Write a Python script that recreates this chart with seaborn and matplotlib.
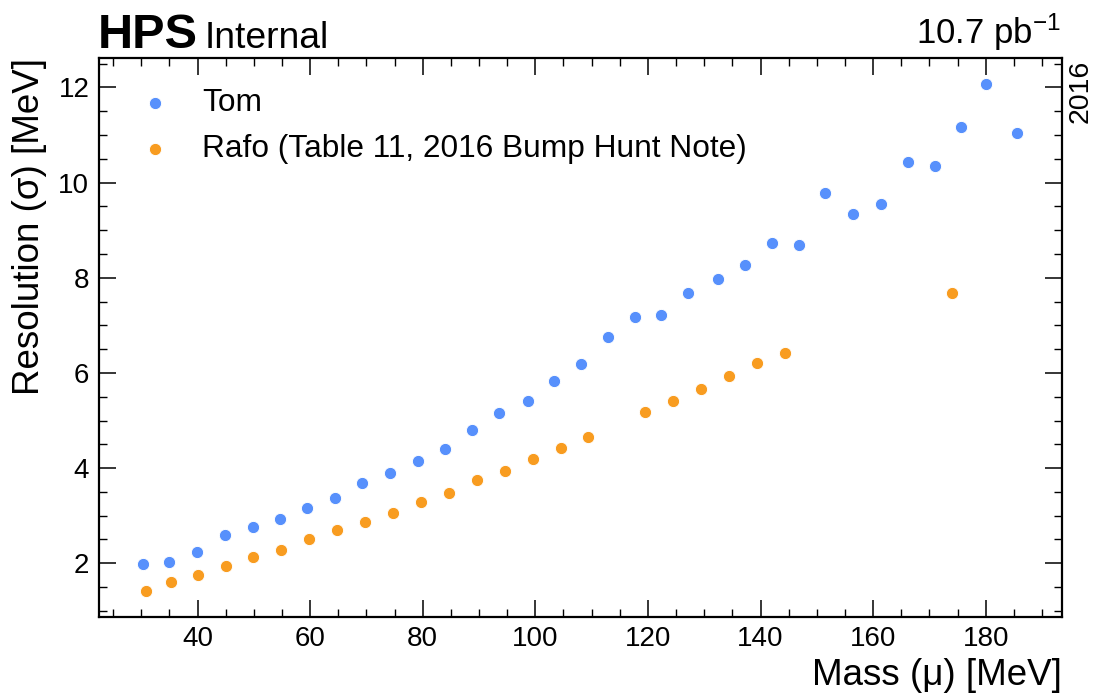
import matplotlib
matplotlib.use("Agg")
import matplotlib.pyplot as plt
import seaborn as sns
import pandas as pd
from matplotlib.ticker import MultipleLocator

# ---- data ----
tom_mass = [30.3, 35.0, 39.9, 44.8, 49.8, 54.7, 59.5, 64.5, 69.3, 74.2, 79.2, 84.0,
            88.8, 93.6, 98.7, 103.4, 108.2, 112.9, 117.7, 122.4, 127.2, 132.4, 137.2,
            142.0, 146.9, 151.4, 156.5, 161.4, 166.2, 171.0, 175.7, 180.0, 185.6]
tom_res = [1.98, 2.03, 2.24, 2.59, 2.76, 2.92, 3.16, 3.37, 3.68, 3.89, 4.15, 4.40,
           4.81, 5.15, 5.40, 5.83, 6.18, 6.76, 7.18, 7.21, 7.68, 7.97, 8.27,
           8.73, 8.68, 9.79, 9.34, 9.55, 10.44, 10.35, 11.18, 12.07, 11.05]
rafo_mass = [30.9, 35.3, 40.0, 45.0, 49.9, 54.9, 59.8, 64.8, 69.7, 74.7, 79.7, 84.6,
             89.6, 94.6, 99.6, 104.5, 109.4, 119.5, 124.5, 129.5, 134.4, 139.4, 144.3,
             174.1]
rafo_res = [1.42, 1.61, 1.76, 1.94, 2.13, 2.28, 2.50, 2.70, 2.87, 3.06, 3.28, 3.48,
            3.75, 3.94, 4.19, 4.42, 4.66, 5.17, 5.42, 5.66, 5.94, 6.21, 6.42,
            7.68]
labels = ["Tom", "Rafo (Table 11, 2016 Bump Hunt Note)"]
colors = ["#5790fc", "#f89c20"]

sns.set_theme(style="ticks")
plt.rcParams["font.family"] = ["Liberation Sans", "DejaVu Sans"]
plt.rcParams["mathtext.fontset"] = "custom"
plt.rcParams["mathtext.rm"] = "Liberation Sans"
plt.rcParams["mathtext.default"] = "regular"
plt.rcParams["text.color"] = "black"

fig = plt.figure(figsize=(10.95, 6.98), dpi=100)
ax = fig.add_axes([99 / 1095, 1 - 616.5 / 698, (1061.7 - 99) / 1095, (616.5 - 58) / 698])

df_tom = pd.DataFrame({"mass": tom_mass, "res": tom_res})
df_rafo = pd.DataFrame({"mass": rafo_mass, "res": rafo_res})
sns.scatterplot(data=df_tom, x="mass", y="res", color=colors[0], s=78,
                edgecolor="white", linewidth=0.7, label=labels[0], ax=ax, zorder=3)
sns.scatterplot(data=df_rafo, x="mass", y="res", color=colors[1], s=78,
                edgecolor="white", linewidth=0.7, label=labels[1], ax=ax, zorder=3)

ax.set_xlim(22.5, 193.5)
ax.set_ylim(0.88, 12.62)
ax.xaxis.set_major_locator(MultipleLocator(20))
ax.xaxis.set_minor_locator(MultipleLocator(5))
ax.yaxis.set_major_locator(MultipleLocator(2))
ax.yaxis.set_minor_locator(MultipleLocator(0.5))
ax.tick_params(which="both", direction="in", top=True, right=True,
               labelsize=20, color="black", labelcolor="black")
ax.tick_params(which="major", length=12.5, width=1.1, pad=7)
ax.tick_params(which="minor", length=6, width=1.0)
for sp in ax.spines.values():
    sp.set_linewidth(1.6)
    sp.set_color("black")

ax.set_xlabel("Mass (\u03bc) [MeV]", fontsize=26.5, loc="right", labelpad=4, color="black")
ax.set_ylabel("Resolution (\u03c3) [MeV]", fontsize=26.5, loc="top", labelpad=8, color="black")

leg = ax.legend(loc="upper left", frameon=False, fontsize=22.8,
                handletextpad=0.71, labelspacing=0.5, borderaxespad=0.455,
                handlelength=1.6, borderpad=0.5)
for t in leg.get_texts():
    t.set_color("black")

fig.text(98 / 1095, 1 - 48 / 698, "HPS", fontsize=35, fontweight="bold",
         ha="left", va="baseline", color="black")
fig.text(205 / 1095, 1 - 48 / 698, "Internal", fontsize=26.8, ha="left",
         va="baseline", color="black")
fig.text(1061 / 1095, 1 - 44 / 698, "10.7 pb$^{-1}$", fontsize=25, ha="right",
         va="baseline", color="black")
fig.text(1068 / 1095, 1 - 60 / 698, "2016", fontsize=20.5, rotation=90,
         ha="left", va="top", color="black")

fig.savefig("out.png", dpi=100)
